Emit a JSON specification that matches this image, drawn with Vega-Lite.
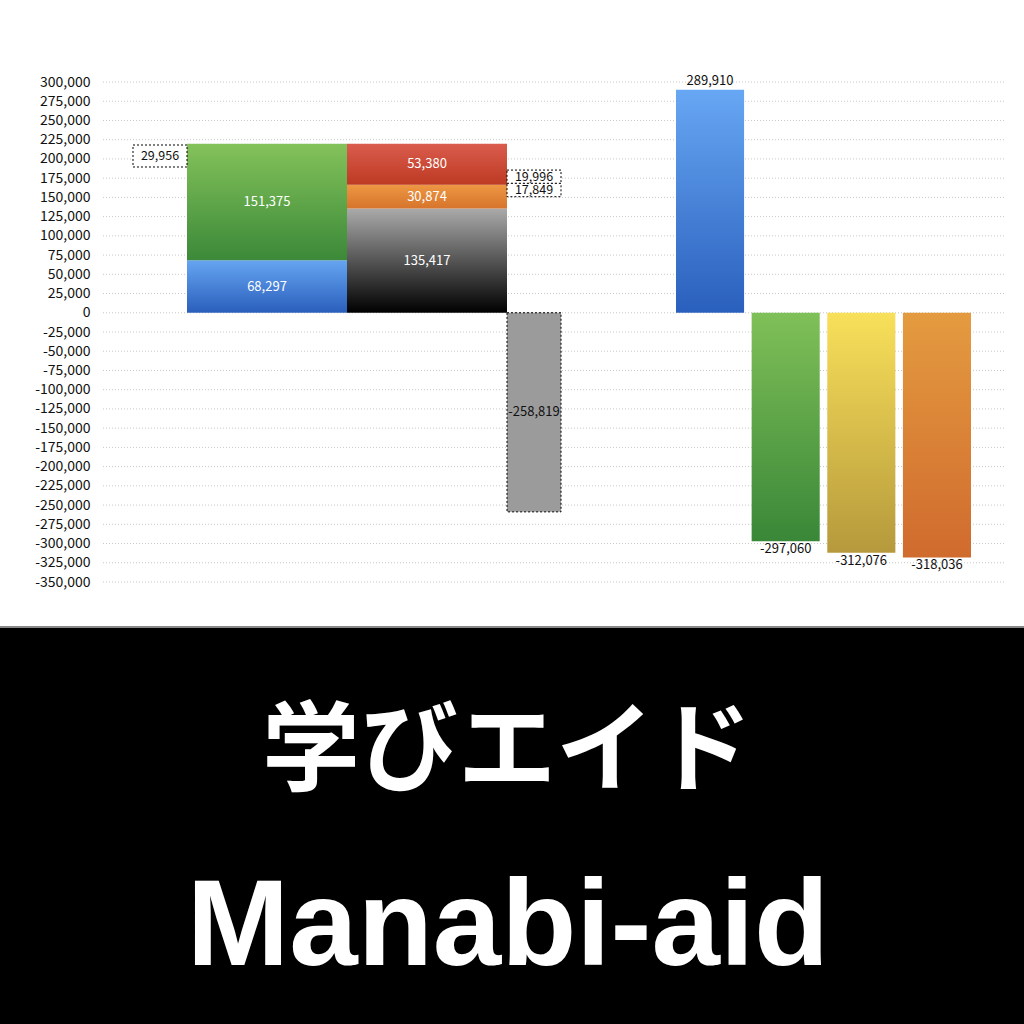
{
  "$schema": "https://vega.github.io/schema/vega-lite/v6.json",
  "background": "#888888",
  "padding": 0,
  "spacing": 2,
  "config": {
    "view": {"stroke": null},
    "font": "Noto Sans CJK JP",
    "axis": {"grid": false, "domain": false, "ticks": false},
    "locale": {"number": {"decimal": ".", "thousands": ",", "grouping": [3], "currency": ["", ""], "minus": "-"}}
  },
  "datasets": {
    "ticks": [
      {"v": 300000}, {"v": 275000}, {"v": 250000}, {"v": 225000}, {"v": 200000},
      {"v": 175000}, {"v": 150000}, {"v": 125000}, {"v": 100000}, {"v": 75000},
      {"v": 50000}, {"v": 25000}, {"v": 0}, {"v": -25000}, {"v": -50000},
      {"v": -75000}, {"v": -100000}, {"v": -125000}, {"v": -150000}, {"v": -175000},
      {"v": -200000}, {"v": -225000}, {"v": -250000}, {"v": -275000}, {"v": -300000},
      {"v": -325000}, {"v": -350000}
    ],
    "left": [
      {"bar": "A", "item": "blue", "k": 1, "value": 68297},
      {"bar": "A", "item": "green", "k": 2, "value": 151375},
      {"bar": "B", "item": "black", "k": 1, "value": 135417},
      {"bar": "B", "item": "orange", "k": 2, "value": 30874},
      {"bar": "B", "item": "red", "k": 3, "value": 53380}
    ],
    "neg": [
      {"bar": "C", "value": -258819}
    ],
    "right": [
      {"bar": "R1", "item": "blue2", "value": 289910},
      {"bar": "R2", "item": "green2", "value": -297060},
      {"bar": "R3", "item": "yellow", "value": -312076},
      {"bar": "R4", "item": "orange2", "value": -318036}
    ],
    "notes": [
      {"side": "L", "label": "29,956", "at": 203800},
      {"side": "R", "label": "19,996", "at": 176800},
      {"side": "R", "label": "17,849", "at": 159600}
    ],
    "brand": [
      {"t": "学びエイド"},
      {"t": "Manabi-aid"}
    ]
  },
  "vconcat": [
    {
      "width": 1024,
      "height": 626,
      "view": {"fill": "white", "stroke": null},
      "resolve": {"scale": {"x": "independent"}, "axis": {"x": "independent", "y": "independent"}},
      "layer": [
        {
          "data": {"name": "ticks"},
          "mark": {"type": "rule", "color": "#c8c8c8", "strokeDash": [1, 2], "strokeWidth": 1},
          "encoding": {
            "y": {
              "field": "v", "type": "quantitative", "title": null,
              "scale": {"domain": [-350000, 300000], "range": [582, 82], "nice": false, "zero": false},
              "axis": {
                "orient": "left", "offset": -100, "grid": false, "domain": false, "ticks": false,
                "labelPadding": 10, "labelFontSize": 14, "labelColor": "#111111",
                "labelFont": "Noto Sans CJK JP", "labelOverlap": false, "labelBound": false,
                "labelExpr": "replace(format(datum.value, ','), '\u2212', '-')",
                "values": [300000, 275000, 250000, 225000, 200000, 175000, 150000, 125000, 100000, 75000, 50000, 25000, 0, -25000, -50000, -75000, -100000, -125000, -150000, -175000, -200000, -225000, -250000, -275000, -300000, -325000, -350000]
              }
            },
            "x": {"datum": 0, "type": "quantitative", "scale": {"domain": [0, 1], "range": [103, 1006]}, "axis": null},
            "x2": {"datum": 1}
          }
        },
        {
          "data": {"name": "left"},
          "transform": [
            {"stack": "value", "groupby": ["bar"], "sort": [{"field": "k", "order": "ascending"}], "as": ["v0", "v1"]},
            {"calculate": "(datum.v0 + datum.v1) / 2", "as": "mid"}
          ],
          "encoding": {
            "x": {"field": "bar", "type": "nominal", "axis": null,
                  "scale": {"type": "band", "domain": ["A", "B"], "range": [187, 507], "paddingInner": 0, "paddingOuter": 0}}
          },
          "layer": [
            {
              "mark": {"type": "bar"},
              "encoding": {
                "y": {"field": "v0", "type": "quantitative", "axis": null,
                      "scale": {"domain": [-350000, 300000], "range": [582, 82], "nice": false, "zero": false}},
                "y2": {"field": "v1"},
                "fill": {
                  "condition": [
                    {"test": "datum.item == 'blue'", "value": {"gradient": "linear", "x1": 0, "y1": 0, "x2": 0, "y2": 1, "stops": [{"offset": 0, "color": "#66a5f1"}, {"offset": 1, "color": "#2a5fbc"}]}},
                    {"test": "datum.item == 'green'", "value": {"gradient": "linear", "x1": 0, "y1": 0, "x2": 0, "y2": 1, "stops": [{"offset": 0, "color": "#84c25a"}, {"offset": 1, "color": "#3b8939"}]}},
                    {"test": "datum.item == 'black'", "value": {"gradient": "linear", "x1": 0, "y1": 0, "x2": 0, "y2": 1, "stops": [{"offset": 0, "color": "#aaaaaa"}, {"offset": 1, "color": "#000000"}]}},
                    {"test": "datum.item == 'orange'", "value": {"gradient": "linear", "x1": 0, "y1": 0, "x2": 0, "y2": 1, "stops": [{"offset": 0, "color": "#ed9743"}, {"offset": 1, "color": "#d6742b"}]}},
                    {"test": "datum.item == 'red'", "value": {"gradient": "linear", "x1": 0, "y1": 0, "x2": 0, "y2": 1, "stops": [{"offset": 0, "color": "#da5c4e"}, {"offset": 1, "color": "#bd3a22"}]}}
                  ],
                  "value": "#999999"
                }
              }
            },
            {
              "mark": {"type": "text", "color": "white", "fontSize": 13, "baseline": "middle"},
              "encoding": {
                "y": {"field": "mid", "type": "quantitative", "axis": null,
                      "scale": {"domain": [-350000, 300000], "range": [582, 82], "nice": false, "zero": false}},
                "text": {"field": "value", "type": "quantitative", "format": ","}
              }
            }
          ]
        },
        {
          "data": {"name": "neg"},
          "transform": [{"calculate": "datum.value / 2", "as": "mid"}],
          "encoding": {
            "x": {"field": "bar", "type": "nominal", "axis": null,
                  "scale": {"type": "band", "domain": ["C"], "range": [507, 561], "paddingInner": 0, "paddingOuter": 0}}
          },
          "layer": [
            {
              "mark": {"type": "bar", "fill": "#9b9b9b", "stroke": "#000000", "strokeDash": [2, 2], "strokeWidth": 1},
              "encoding": {
                "y": {"field": "value", "type": "quantitative", "axis": null,
                      "scale": {"domain": [-350000, 300000], "range": [582, 82], "nice": false, "zero": false}},
                "y2": {"datum": 0}
              }
            },
            {
              "mark": {"type": "text", "color": "#111111", "fontSize": 13, "baseline": "middle"},
              "encoding": {
                "y": {"field": "mid", "type": "quantitative", "axis": null,
                      "scale": {"domain": [-350000, 300000], "range": [582, 82], "nice": false, "zero": false}},
                "text": {"field": "value", "type": "quantitative", "format": ","}
              }
            }
          ]
        },
        {
          "data": {"name": "right"},
          "encoding": {
            "x": {"field": "bar", "type": "nominal", "axis": null,
                  "scale": {"type": "band", "domain": ["R1", "R2", "R3", "R4"], "range": [676, 971], "paddingInner": 0.1, "paddingOuter": 0}},
            "y": {"field": "value", "type": "quantitative", "axis": null,
                  "scale": {"domain": [-350000, 300000], "range": [582, 82], "nice": false, "zero": false}}
          },
          "layer": [
            {
              "mark": {"type": "bar"},
              "encoding": {
                "y2": {"datum": 0},
                "fill": {
                  "condition": [
                    {"test": "datum.item == 'blue2'", "value": {"gradient": "linear", "x1": 0, "y1": 0, "x2": 0, "y2": 1, "stops": [{"offset": 0, "color": "#67a7f3"}, {"offset": 1, "color": "#2a60bd"}]}},
                    {"test": "datum.item == 'green2'", "value": {"gradient": "linear", "x1": 0, "y1": 0, "x2": 0, "y2": 1, "stops": [{"offset": 0, "color": "#80c058"}, {"offset": 1, "color": "#398738"}]}},
                    {"test": "datum.item == 'yellow'", "value": {"gradient": "linear", "x1": 0, "y1": 0, "x2": 0, "y2": 1, "stops": [{"offset": 0, "color": "#f8e05a"}, {"offset": 1, "color": "#b6993c"}]}},
                    {"test": "datum.item == 'orange2'", "value": {"gradient": "linear", "x1": 0, "y1": 0, "x2": 0, "y2": 1, "stops": [{"offset": 0, "color": "#e49b3f"}, {"offset": 1, "color": "#d06b2e"}]}}
                  ],
                  "value": "#999999"
                }
              }
            },
            {
              "transform": [{"filter": "datum.value > 0"}],
              "mark": {"type": "text", "color": "#111111", "fontSize": 13, "baseline": "bottom", "dy": -2},
              "encoding": {"text": {"field": "value", "type": "quantitative", "format": ","}}
            },
            {
              "transform": [{"filter": "datum.value < 0"}],
              "mark": {"type": "text", "color": "#111111", "fontSize": 13, "baseline": "top", "dy": 2},
              "encoding": {"text": {"field": "value", "type": "quantitative", "format": ","}}
            }
          ]
        },
        {
          "data": {"name": "notes"},
          "encoding": {
            "x": {"field": "side", "type": "nominal", "axis": null,
                  "scale": {"type": "point", "domain": ["L", "R"], "range": [160, 534], "padding": 0}},
            "y": {"field": "at", "type": "quantitative", "axis": null,
                  "scale": {"domain": [-350000, 300000], "range": [582, 82], "nice": false, "zero": false}}
          },
          "layer": [
            {
              "mark": {"type": "point", "filled": true, "fill": "white", "stroke": "#000000", "strokeDash": [2, 2], "strokeWidth": 1, "opacity": 1, "size": 2916},
              "encoding": {
                "shape": {
                  "condition": {"test": "datum.side == 'L'", "value": "M-1,-0.407H1V0.407H-1Z"},
                  "value": "M-1,-0.248H1V0.248H-1Z"
                }
              }
            },
            {
              "mark": {"type": "text", "color": "#111111", "fontSize": 12.5, "baseline": "middle"},
              "encoding": {"text": {"field": "label", "type": "nominal"}}
            }
          ]
        }
      ]
    },
    {
      "width": 1024,
      "height": 396,
      "view": {"fill": "black", "stroke": null},
      "data": {"name": "brand"},
      "encoding": {
        "y": {"field": "t", "type": "nominal", "axis": null,
              "scale": {"type": "point", "domain": ["学びエイド", "Manabi-aid"], "range": [126, 337], "padding": 0}}
      },
      "layer": [
        {
          "transform": [{"filter": "datum.t == '学びエイド'"}],
          "mark": {"type": "text", "font": "Noto Sans CJK JP", "fontWeight": "bold", "fontSize": 98, "color": "white", "baseline": "middle", "dx": -5},
          "encoding": {"text": {"field": "t", "type": "nominal"}}
        },
        {
          "transform": [{"filter": "datum.t == 'Manabi-aid'"}],
          "mark": {"type": "text", "font": "Liberation Sans", "fontWeight": "bold", "fontSize": 123, "color": "white", "baseline": "alphabetic", "dx": -4},
          "encoding": {"text": {"field": "t", "type": "nominal"}}
        }
      ]
    }
  ]
}
